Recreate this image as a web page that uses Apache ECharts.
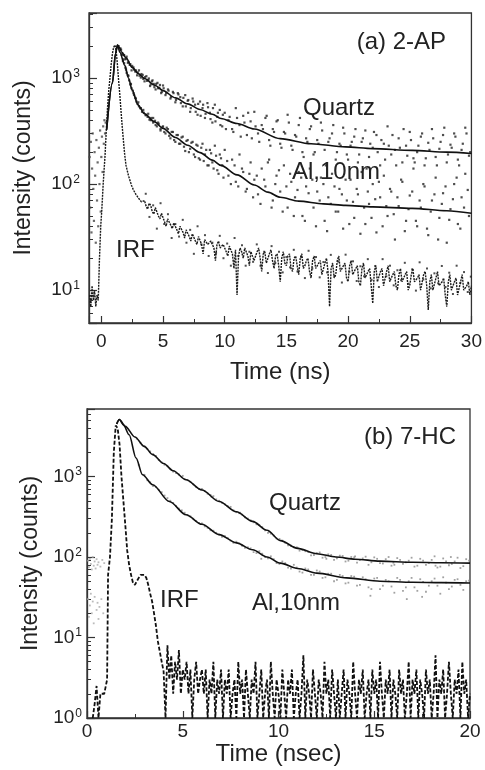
<!DOCTYPE html>
<html><head><meta charset="utf-8">
<script src="https://cdn.jsdelivr.net/npm/echarts@6/dist/echarts.min.js"></script>
<style>html,body{margin:0;padding:0;background:#fff}#c{width:485px;height:770px}</style>
</head><body><div id="c"></div>
<script>
// ---------------- Panel (a) 2-AP ----------------
const quartzFitA = [[0.43,325],[0.9,900],[1.15,1700],[1.31,2050],[1.45,1950],[1.64,1760],[2.0,1550],[2.5,1260],[3.0,1100],[3.5,990],[4.33,855],[5,760],[6,650],[7,570],[8,505],[9,455],[9.7,415],[11,372],[12.4,330],[14.5,268],[17,240],[19.8,224],[22,216],[25.2,208],[28,200],[30,194]];
const alFitA = [[0.43,325],[0.9,900],[1.15,1700],[1.31,2050],[1.5,1750],[1.9,1320],[2.2,1000],[2.5,770],[2.98,555],[3.5,460],[4.33,385],[5,335],[6,275],[7,232],[8,198],[9,168],[9.7,150],[11,122],[12.4,98],[13.5,84],[14.5,75],[16,69],[18,65],[19.8,63],[22,61],[25.2,59],[28,56],[30,53]];
const quartzDotsA = [[1.4,2000],[1.6,1850],[1.8,1650],[2.0,1520],[2.15,1390],[2.3,1330],[2.45,1180],[2.6,1260],[2.75,1150],[2.9,1060],[3.05,1180],[3.2,1010],[3.35,1070],[3.5,930],[3.65,1040],[3.8,960],[3.95,840],[4.1,930],[4.25,880],[4.4,780],[4.55,900],[4.7,810],[4.85,720],[5.0,850],[5.2,690],[5.4,780],[5.6,640],[5.8,740],[6.0,590],[6.2,720],[6.4,660],[6.6,540],[6.8,690],[7.0,610],[7.2,480],[7.4,640],[7.6,560],[7.8,450],[8.0,600],[8.2,520],[8.4,420],[8.6,580],[8.8,470],[9.0,380],[9.2,560],[9.4,430],[9.6,500],[9.8,350],[10.0,470],[10.3,400],[10.6,330],[10.9,520],[11.2,360],[11.5,440],[11.8,290],[12.1,390],[12.4,480],[12.7,300],[13.0,360],[13.3,420],[13.6,260],[13.9,330],[14.2,390],[14.5,240],[14.8,310],[15.1,450],[15.4,230],[15.7,290],[16.0,360],[16.3,200],[16.6,270],[16.9,330],[17.2,190],[17.5,260],[17.8,380],[18.1,210],[18.4,250],[18.7,300],[19.0,170],[19.3,240],[19.6,340],[19.9,190],[20.2,230],[20.5,280],[20.8,160],[21.1,250],[21.4,320],[21.7,180],[22.0,220],[22.3,290],[22.6,150],[22.9,240],[23.2,350],[23.5,190],[23.8,210],[24.1,270],[24.4,160],[24.7,230],[25.0,310],[25.3,175],[25.6,200],[25.9,280],[26.2,150],[26.5,245],[26.8,330],[27.1,180],[27.4,215],[27.7,290],[28.0,160],[28.3,235],[28.6,300],[28.9,170],[29.2,210],[29.5,340],[29.8,185]];
const quartzDotsA2 = [[1.55,1900],[1.7,1700],[1.85,1640],[1.95,1500],[2.05,1590],[2.2,1420],[2.35,1350],[2.5,1300],[2.65,1200],[2.8,1180],[2.95,1130],[3.1,1050],[3.25,1090],[3.4,980],[3.55,1020],[3.7,940],[3.85,990],[4.0,870],[4.15,950],[4.3,820],[4.45,880],[4.6,800],[4.75,860],[4.9,740],[5.05,800],[5.25,720],[5.45,760],[5.65,660],[5.85,720],[6.05,620],[6.25,700],[6.45,580],[6.65,650],[6.85,540],[7.05,620],[7.25,520],[7.45,600],[7.65,480],[7.85,570],[8.05,440],[8.25,560],[8.45,460],[8.65,530],[8.85,410],[9.05,520],[9.25,390],[9.45,470],[9.65,360],[9.85,450],[10.1,330],[10.4,430],[10.7,310],[11.0,420],[11.3,280],[11.6,380],[11.9,470],[12.2,270],[12.5,350],[12.8,250],[13.1,330],[13.4,440],[13.7,230],[14.0,310],[14.3,400],[14.6,220],[14.9,300],[15.2,380],[15.5,210],[15.8,280],[16.1,420],[16.4,180],[16.7,250],[17.0,350],[17.3,200],[17.6,240],[17.9,320],[18.2,150],[18.5,270],[18.8,360],[19.1,200],[19.4,230],[19.7,300],[20.0,170],[20.3,250],[20.6,330],[20.9,190],[21.2,270],[21.5,140],[21.8,240],[22.1,310],[22.4,200],[22.7,260],[23.0,170],[23.3,230],[23.6,290],[23.9,150],[24.2,220],[24.5,330],[24.8,185],[25.1,260],[25.4,160],[25.7,230],[26.0,300],[26.3,175],[26.6,210],[26.9,270],[27.2,150],[27.5,250],[27.8,340],[28.1,190],[28.4,220],[28.7,280],[29.0,150],[29.3,240],[29.6,300],[29.9,200]];
const alDotsA = [[1.8,1500],[2.0,1200],[2.2,1050],[2.4,880],[2.6,720],[2.8,640],[3.0,590],[3.2,520],[3.4,500],[3.6,450],[3.8,460],[4.0,400],[4.2,420],[4.4,360],[4.6,380],[4.8,320],[5.0,350],[5.2,300],[5.4,330],[5.6,270],[5.8,310],[6.0,250],[6.2,290],[6.4,240],[6.6,280],[6.8,205],[7.0,260],[7.2,215],[7.4,250],[7.6,180],[7.8,230],[8.0,170],[8.2,240],[8.4,190],[8.6,150],[8.8,210],[9.0,160],[9.2,230],[9.4,135],[9.6,190],[9.8,150],[10.0,210],[10.3,120],[10.6,170],[10.9,105],[11.2,190],[11.5,130],[11.8,90],[12.1,160],[12.4,110],[12.7,80],[13.0,140],[13.3,95],[13.6,170],[13.9,70],[14.2,120],[14.5,85],[14.8,150],[15.1,60],[15.4,105],[15.7,75],[16.0,130],[16.3,50],[16.6,95],[16.9,140],[17.2,60],[17.5,85],[17.8,115],[18.1,45],[18.4,75],[18.7,125],[19.0,55],[19.3,90],[19.6,38],[19.9,70],[20.2,110],[20.5,48],[20.8,80],[21.1,130],[21.4,42],[21.7,65],[22.0,100],[22.3,35],[22.6,75],[22.9,120],[23.2,50],[23.5,85],[23.8,30],[24.1,62],[24.4,105],[24.7,45],[25.0,78],[25.3,140],[25.6,40],[25.9,60],[26.2,95],[26.5,33],[26.8,70],[27.1,115],[27.4,48],[27.7,82],[28.0,28],[28.3,58],[28.6,100],[28.9,42],[29.2,75],[29.5,125],[29.8,50]];
const alDotsA2 = [[1.65,1650],[1.75,1450],[1.85,1380],[1.95,1250],[2.05,1120],[2.15,1060],[2.25,950],[2.35,870],[2.45,800],[2.55,760],[2.65,690],[2.75,650],[2.85,600],[2.95,570],[3.05,540],[3.15,520],[3.3,480],[3.45,470],[3.6,445],[3.75,430],[3.9,405],[4.05,420],[4.2,380],[4.35,395],[4.5,350],[4.65,370],[4.8,330],[4.95,345],[5.1,310],[5.3,340],[5.5,285],[5.7,310],[5.9,260],[6.1,290],[6.3,240],[6.5,275],[6.7,225],[6.9,255],[7.1,200],[7.3,245],[7.5,190],[7.7,235],[7.9,175],[8.1,220],[8.3,165],[8.5,210],[8.7,150],[8.9,195],[9.1,140],[9.3,185],[9.5,125],[9.7,175],[9.9,115],[10.2,165],[10.5,100],[10.8,150],[11.1,95],[11.4,140],[11.7,85],[12.0,125],[12.3,75],[12.6,120],[12.9,65],[13.2,110],[13.5,160],[13.8,60],[14.1,100],[14.4,135],[14.7,55],[15.0,95],[15.3,125],[15.6,50],[15.9,88],[16.2,115],[16.5,45],[16.8,82],[17.1,110],[17.4,40],[17.7,70],[18.0,100],[18.3,36],[18.6,65],[18.9,95],[19.2,55],[19.5,80],[19.8,110],[20.1,42],[20.4,68],[20.7,90],[21.0,34],[21.3,60],[21.6,85],[21.9,48],[22.2,72],[22.5,105],[22.8,40],[23.1,62],[23.4,90],[23.7,52],[24.0,75],[24.3,110],[24.6,36],[24.9,58],[25.2,85],[25.5,45],[25.8,70],[26.1,100],[26.4,38],[26.7,55],[27.0,80],[27.3,30],[27.6,65],[27.9,95],[28.2,46],[28.5,72],[28.8,115],[29.1,38],[29.4,60],[29.7,88]];
const preDotsA = [[-0.95,180],[-0.9,60],[-0.85,250],[-0.8,35],[-0.75,140],[-0.7,300],[-0.65,90],[-0.6,45],[-0.55,200],[-0.5,120],[-0.45,28],[-0.4,260],[-0.35,70],[-0.3,160],[-0.25,40],[-0.2,220],[-0.15,100],[-0.1,320],[-0.05,55],[0,180],[0.05,280],[0.1,130],[0.15,350],[0.2,240],[0.25,400],[0.3,300],[0.35,380]];
const irfDotsA = [[3.6,81],[3.9,49],[4.2,63],[4.5,38],[4.8,66],[5.1,42],[5.4,52],[5.7,31],[6.0,42],[6.3,32],[6.6,46],[6.9,28],[7.2,37],[7.5,22],[7.8,40],[8.1,27],[8.4,33],[8.7,21],[9.0,28],[9.3,22.5],[9.6,32.5],[9.9,20],[10.2,27.5],[10.5,17],[10.8,31],[11.1,21],[11.4,26.5],[11.7,17],[12.0,23],[12.3,18.5],[12.6,27],[12.9,17],[13.2,23],[13.5,14.5],[13.8,26],[14.1,18],[14.4,23],[14.7,14.7],[15.0,20.5],[15.3,16.4],[15.6,24],[15.9,15],[16.2,20.5],[16.5,13],[16.8,23.5],[17.1,16],[17.4,20.5],[17.7,13.2],[18.0,18.4],[18.3,14.7],[18.6,21.5],[18.9,13.6],[19.2,18.6],[19.5,11.8],[19.8,21.6],[20.1,14.9],[20.4,18.7],[20.7,12.2],[21.0,16.8],[21.3,13.5],[21.6,19.6],[21.9,12.5],[22.2,16.9],[22.5,10.7],[22.8,19.6],[23.1,13.5],[23.4,17],[23.7,11.1],[24.0,15.4],[24.3,12.4],[24.6,18.1],[24.9,11.5],[25.2,15.7],[25.5,9.9],[25.8,18.3],[26.1,12.6],[26.4,16],[26.7,10.4],[27.0,14.4],[27.3,11.6],[27.6,16.9],[27.9,10.7],[28.2,14.6],[28.5,9.2],[28.8,17],[29.1,11.7],[29.4,14.8],[29.7,9.6],[29.95,13.4]];
const irfHeadA = [[-0.95,9],[-0.85,7],[-0.75,11],[-0.65,8],[-0.55,10],[-0.45,7],[-0.35,9],[-0.25,8],[-0.15,20],[-0.05,40],[0.03,55],[0.15,100],[0.3,186],[0.4,320],[0.5,520],[0.6,760],[0.7,1000],[0.8,1350],[0.9,1700],[1.0,1950],[1.1,2050],[1.2,1800],[1.3,1350],[1.4,950],[1.5,690],[1.6,480],[1.7,340],[1.8,250],[1.9,186],[2.0,150],[2.2,120],[2.45,97],[2.6,88],[2.8,80],[3.0,74],[3.25,68]];
const irfTailStartA = 3.5, irfTailStepA = 0.125;
const irfTailA = [70,62,58,66,63,55,52,60, 58,50,47,53,52,44,40,47, 47,41,38,43,44,37,34,40, 40,35,31,37,37,32,29,34, 35,29,27,32,33,27,22,30, 31,27,26,29,30,25,19,27, 29,25,24,27,28,23,21,26, 27,22,16,24,9,21,25,23, 20,25,26,21,17,23,24,19, 19,23,25,20,15,22,23,18, 18,22,24,19,16,21,22,17, 12,20,23,18,17,21,22,16, 15,20,21,17,14,20,22,16, 17,19,20,15,13,19,21,16, 16,18,19,14,14,18,20,15, 7,16,18,13,14,19,21,15, 15,17,18,13,12,17,19,14, 14,16,17,12,11,16,18,13, 13,15,16,11,7.5,15,17,12, 12,15,16,11,11,15,17,12, 13,14,15,11,10,14,16,12, 12,14,15,10,11,14,16,12, 12,13,14,10,10,14,15,11, 6.5,12,14,10,10,13,15,11, 11,12,13,9,7,12,14,10, 10,12,13,9,9,12,14,10, 10,11,12,9,11];

// ---------------- Panel (b) 7-HC ----------------
const quartzFitB = [[1.55,4500],[1.69,5100],[2.0,4200],[2.5,3100],[3.0,2350],[3.43,1870],[4.0,1450],[4.5,1180],[5.17,910],[6.0,680],[6.9,490],[7.8,365],[8.65,277],[9.4,215],[10.1,160],[11,128],[12,110],[13,100],[14,94],[15.3,89],[17,86],[18.5,85],[20,84]];
const alFitB = [[1.55,4500],[1.69,5100],[1.9,4400],[2.2,3300],[2.56,1700],[2.9,1050],[3.43,790],[4.3,490],[5.17,335],[6.0,255],[6.9,190],[7.8,150],[8.65,123],[9.4,100],[10.1,84],[11,72],[12,63],[13.56,55],[15.3,50],[17,48.5],[18.5,48],[20,47.5]];
const quartzDotsB = [[3.0,2400],[3.3,2050],[3.6,1800],[3.9,1500],[4.2,1360],[4.5,1150],[4.8,1060],[5.0,1020],[5.1,930],[5.4,860],[5.7,740],[6.0,700],[6.3,610],[6.5,560],[6.6,570],[6.9,500],[7.2,450],[7.5,420],[7.8,360],[8.0,355],[8.1,335],[8.4,300],[8.7,270],[9.0,250],[9.3,215],[9.5,205],[9.6,195],[9.9,170],[10.2,160],[10.5,140],[10.8,132],[11.0,130],[11.1,120],[11.4,118],[11.7,105],[12.0,112],[12.3,98],[12.5,95],[12.6,108],[12.9,92],[13.2,104],[13.5,88],[13.8,100],[14.0,102],[14.1,85],[14.4,96],[14.7,80],[15.0,99],[15.3,84],[15.6,94],[15.9,78],[16.0,85],[16.2,97],[16.5,82],[16.8,90],[17.1,76],[17.4,95],[17.7,80],[18.0,92],[18.2,78],[18.3,74],[18.6,96],[18.9,79],[19.0,100],[19.2,88],[19.5,73],[19.8,94]];
const quartzDotsB2 = [[2.6,2950],[2.8,2600],[3.15,2200],[3.45,1900],[3.75,1600],[4.05,1400],[4.35,1250],[4.65,1100],[4.95,990],[5.25,900],[5.55,800],[5.85,700],[6.15,660],[6.45,590],[6.75,520],[7.05,470],[7.35,430],[7.65,380],[7.95,350],[8.25,310],[8.55,285],[8.85,255],[9.15,235],[9.45,200],[9.75,185],[10.05,168],[10.35,150],[10.65,138],[10.95,132],[11.25,122],[11.55,115],[11.85,106],[12.15,114],[12.45,100],[12.75,106],[13.05,96],[13.35,103],[13.65,90],[13.95,99],[14.25,92],[14.55,101],[14.85,86],[15.15,95],[15.45,83],[15.75,100],[16.05,80],[16.35,92],[16.65,86],[16.95,98],[17.25,78],[17.55,90],[17.85,84],[18.15,102],[18.45,76],[18.75,88],[19.05,82],[19.35,98],[19.65,77],[19.95,90]];
const alDotsB = [[3.0,1050],[3.3,850],[3.6,740],[3.9,640],[4.2,540],[4.5,470],[4.8,400],[5.1,355],[5.4,320],[5.7,280],[6.0,262],[6.3,230],[6.6,212],[6.9,190],[7.2,182],[7.5,160],[7.8,155],[8.1,138],[8.4,132],[8.7,115],[9.0,118],[9.1,95],[9.3,100],[9.6,102],[9.9,84],[10.2,88],[10.5,74],[10.8,80],[11.1,66],[11.4,72],[11.7,60],[12.0,68],[12.3,55],[12.6,62],[12.9,50],[13.2,60],[13.5,47],[13.8,58],[14.1,44],[14.4,56],[14.7,42],[14.8,33],[15.0,54],[15.3,40],[15.6,52],[15.9,43],[16.2,55],[16.5,38],[16.7,30],[16.8,50],[17.1,42],[17.4,53],[17.5,32],[17.7,37],[18.0,50],[18.3,44],[18.6,56],[18.9,40],[19.2,52],[19.5,45],[19.8,50]];
const alDotsB2 = [[2.7,1400],[3.15,900],[3.45,760],[3.75,680],[4.05,580],[4.35,500],[4.65,430],[4.95,380],[5.25,330],[5.55,300],[5.85,265],[6.15,240],[6.45,215],[6.75,200],[7.05,178],[7.35,172],[7.65,150],[7.95,148],[8.25,130],[8.55,128],[8.85,112],[9.15,110],[9.45,96],[9.75,94],[10.05,82],[10.35,84],[10.65,72],[10.95,74],[11.25,64],[11.55,70],[11.85,60],[12.15,66],[12.45,56],[12.75,62],[13.05,52],[13.35,58],[13.65,48],[13.95,57],[14.25,45],[14.55,53],[14.85,40],[15.15,55],[15.45,44],[15.75,50],[16.05,36],[16.35,52],[16.65,42],[16.95,55],[17.25,38],[17.55,49],[17.85,44],[18.15,54],[18.45,35],[18.75,48],[19.05,43],[19.35,53],[19.65,39],[19.95,51]];
const preDotsB = [[0.05,90],[0.1,75],[0.15,95],[0.2,82],[0.25,70],[0.3,100],[0.35,78],[0.4,88],[0.45,72],[0.5,94],[0.55,80],[0.6,86],[0.7,76],[0.8,92],[0.9,84],[0.05,30],[0.1,18],[0.15,25],[0.2,35],[0.25,20],[0.3,28],[0.35,15],[0.4,32],[0.5,22],[0.55,27],[0.6,17],[0.65,24],[0.75,30],[0.85,20]];
const irfHeadB = [[0.3,1],[0.4,1.5],[0.5,2.5],[0.6,1],[0.7,2],[0.8,2],[0.9,2],[1.0,2],[1.05,3],[1.1,60],[1.2,100],[1.3,300],[1.4,2000],[1.5,4300],[1.6,4000],[1.7,2500],[1.8,1000],[1.9,500],[2.0,250],[2.1,120],[2.2,80],[2.3,60],[2.4,48],[2.5,45],[2.6,50],[2.7,55],[2.8,60],[2.9,62],[3.0,60],[3.1,55],[3.2,45],[3.3,35],[3.4,28],[3.5,20],[3.6,14],[3.7,9],[3.8,6.7],[3.9,5],[4.0,3.8],[4.1,1]];
const irfTailStartB = 4.2, irfTailStepB = 0.1;
const irfTailB = [8,3,6,2,5,3,7,2,4, 3,5,2,4,1,3,5,2,3,4, 2,4,1,3,2,5,1,3,2,4, 1,3,2,4,1,2,3,1,5,2, 3,1,4,2,1,3,2,5,1,2, 4,1,2,3,1,5,2,1,3,2, 1,4,2,1,3,2,4,1,2,3, 1,2,6,1,3,2,1,4,2,1, 3,2,1,5,2,3,1,4,2,1, 3,1,2,4,1,3,2,1,5,2, 1,3,2,4,1,2,3,1,4,2, 3,1,5,2,1,3,2,4,1,3, 2,1,4,2,3,1,2,5,1,3, 2,4,1,3,2,1,4,2,3,1, 2,6,1,3,2,4,1,2,5,2, 1,3,2,4,1,5,2,3,1,2];

// axis ranges and tick labels
const xRangeA = [-1, 30], yRangeA = [4.9, 4100];
const xRangeB = [0, 20], yRangeB = [1, 6900];
const decadeExponents = {1:'0', 10:'1', 100:'2', 1000:'3'};
const minorLogA = [6,7,8,9,20,30,40,50,60,70,80,90,200,300,400,500,600,700,800,900,2000,3000,4000];
const minorLogB = [2,3,4,5,6,7,8,9,20,30,40,50,60,70,80,90,200,300,400,500,600,700,800,900,2000,3000,4000,5000,6000];
const labelsA = [{t:'(a) 2-AP', x:446, y:42, a:'right'},{t:'Quartz', x:303, y:108, a:'left'},{t:'Al,10nm', x:292, y:172, a:'left'},{t:'IRF', x:116, y:250, a:'left'}];
const labelsB = [{t:'(b) 7-HC', x:456, y:437, a:'right'},{t:'Quartz', x:269, y:503, a:'left'},{t:'IRF', x:160, y:600, a:'left'},{t:'Al,10nm', x:252, y:603, a:'left'}];

const FONT = '"Liberation Sans", Arial, Helvetica, sans-serif';
const INK = '#222';

function tail(start, step, vals){ return vals.map((v,i)=>[+(start+i*step).toFixed(3), v]); }
const irfA = irfHeadA.concat(tail(irfTailStartA, irfTailStepA, irfTailA));
const irfB = irfHeadB.concat(tail(irfTailStartB, irfTailStepB, irfTailB));

function decadeFmt(v){
  const key = Math.round(v);
  if (decadeExponents[key] !== undefined && Math.abs(v-key) < 1e-6) return '{b|10}{s|' + decadeExponents[key] + '}';
  return '';
}
function xFmt(v){ return (Math.abs(v % 5) < 1e-9) ? String(v) : ''; }

function xAxisCfg(grid, range, name, gap, margin){
  return {type:'value', gridIndex:grid, min:range[0], max:range[1],
    name:name, nameLocation:'middle', nameGap:gap,
    nameTextStyle:{fontFamily:FONT, fontSize:24, color:INK},
    axisLine:{show:true, onZero:false, lineStyle:{color:'#333', width:1.3}},
    axisTick:{show:true, inside:true, length:7, lineStyle:{color:'#333', width:1.2}},
    minorTick:{show:true, splitNumber:2, length:4, lineStyle:{color:'#333', width:1}},
    axisLabel:{fontFamily:FONT, fontSize:19, color:INK, margin:margin, formatter:xFmt, showMinLabel:true, showMaxLabel:true},
    splitLine:{show:false}, minorSplitLine:{show:false}};
}
function yAxisCfg(grid, range, name, gap, margin){
  return {type:'log', logBase:10, gridIndex:grid, min:range[0], max:range[1], position:'left',
    name:name, nameLocation:'middle', nameGap:gap,
    nameTextStyle:{fontFamily:FONT, fontSize:23, color:INK},
    axisLine:{show:true, onZero:false, lineStyle:{color:'#333', width:1.3}},
    axisTick:{show:true, inside:true, length:8, lineStyle:{color:'#333', width:1.2}},
    axisLabel:{margin:margin, formatter:decadeFmt, showMinLabel:true, showMaxLabel:true,
      rich:{b:{fontFamily:FONT, fontSize:19, color:INK}, s:{fontFamily:FONT, fontSize:12, color:INK, verticalAlign:'top', padding:[0,0,9,1]}}},
    splitLine:{show:false}};
}
function yMinorCfg(grid, range, vals){
  return {type:'log', logBase:10, gridIndex:grid, min:range[0], max:range[1], position:'left', offset:0,
    axisLine:{show:false, onZero:false}, axisLabel:{show:false}, splitLine:{show:false},
    axisTick:{show:true, inside:true, length:4, customValues:vals, lineStyle:{color:'#333', width:1}}};
}
function dots(xi, yi, data, color, size){
  return {type:'scatter', xAxisIndex:xi, yAxisIndex:yi, data:data, symbol:'rect', symbolSize:size,
    itemStyle:{color:color}, silent:true, z:2};
}
function fit(xi, yi, data){
  return {type:'line', xAxisIndex:xi, yAxisIndex:yi, data:data, showSymbol:false, smooth:0.3, smoothMonotone:'x',
    lineStyle:{color:'#111', width:1.6}, z:4, silent:true};
}
function irf(xi, yi, data, dash, color, width){
  return {type:'line', xAxisIndex:xi, yAxisIndex:yi, data:data, showSymbol:false,
    lineStyle:{color:color, width:width, type:dash}, z:3, silent:true};
}
function textEls(list){
  return list.map(l=>({type:'text', z:10, style:{text:l.t, x:l.x, y:l.y, textAlign:l.a, textVerticalAlign:'middle', font:'24px ' + FONT, fill:INK}}));
}

const chart = echarts.init(document.getElementById('c'), null, {renderer:'canvas'});
chart.setOption({
  animation:false,
  backgroundColor:'#fff',
  grid:[
    {left:89, top:13, width:384, height:310, show:true, borderColor:'#333', borderWidth:1.3, backgroundColor:'transparent'},
    {left:87, top:409, width:383, height:309, show:true, borderColor:'#333', borderWidth:1.3, backgroundColor:'transparent'}
  ],
  xAxis:[xAxisCfg(0, xRangeA, 'Time (ns)', 37, 9), xAxisCfg(1, xRangeB, 'Time (nsec)', 22, 4)],
  yAxis:[yAxisCfg(0, yRangeA, 'Intensity (counts)', 54, 9), yMinorCfg(0, yRangeA, minorLogA),
         yAxisCfg(1, yRangeB, 'Intensity (counts)', 44, 5), yMinorCfg(1, yRangeB, minorLogB)],
  series:[
    dots(0,0,preDotsA,'#444',2.2), dots(0,0,quartzDotsA,'#222',2.2), dots(0,0,quartzDotsA2,'#222',2.2),
    dots(0,0,alDotsA,'#222',2.2), dots(0,0,alDotsA2,'#222',2.2), dots(0,0,irfDotsA,'#222',2),
    irf(0,0,irfA,[2,1],'#1a1a1a',1.4),
    fit(0,0,quartzFitA), fit(0,0,alFitA),
    dots(1,2,preDotsB,'#aaa',1.8), dots(1,2,quartzDotsB,'#8a8a8a',1.8), dots(1,2,quartzDotsB2,'#8a8a8a',1.8),
    dots(1,2,alDotsB,'#8a8a8a',1.8), dots(1,2,alDotsB2,'#8a8a8a',1.8),
    irf(1,2,irfB,[4,2],'#111',1.8),
    fit(1,2,quartzFitB), fit(1,2,alFitB)
  ],
  graphic: textEls(labelsA).concat(textEls(labelsB))
});
</script>
</body></html>
